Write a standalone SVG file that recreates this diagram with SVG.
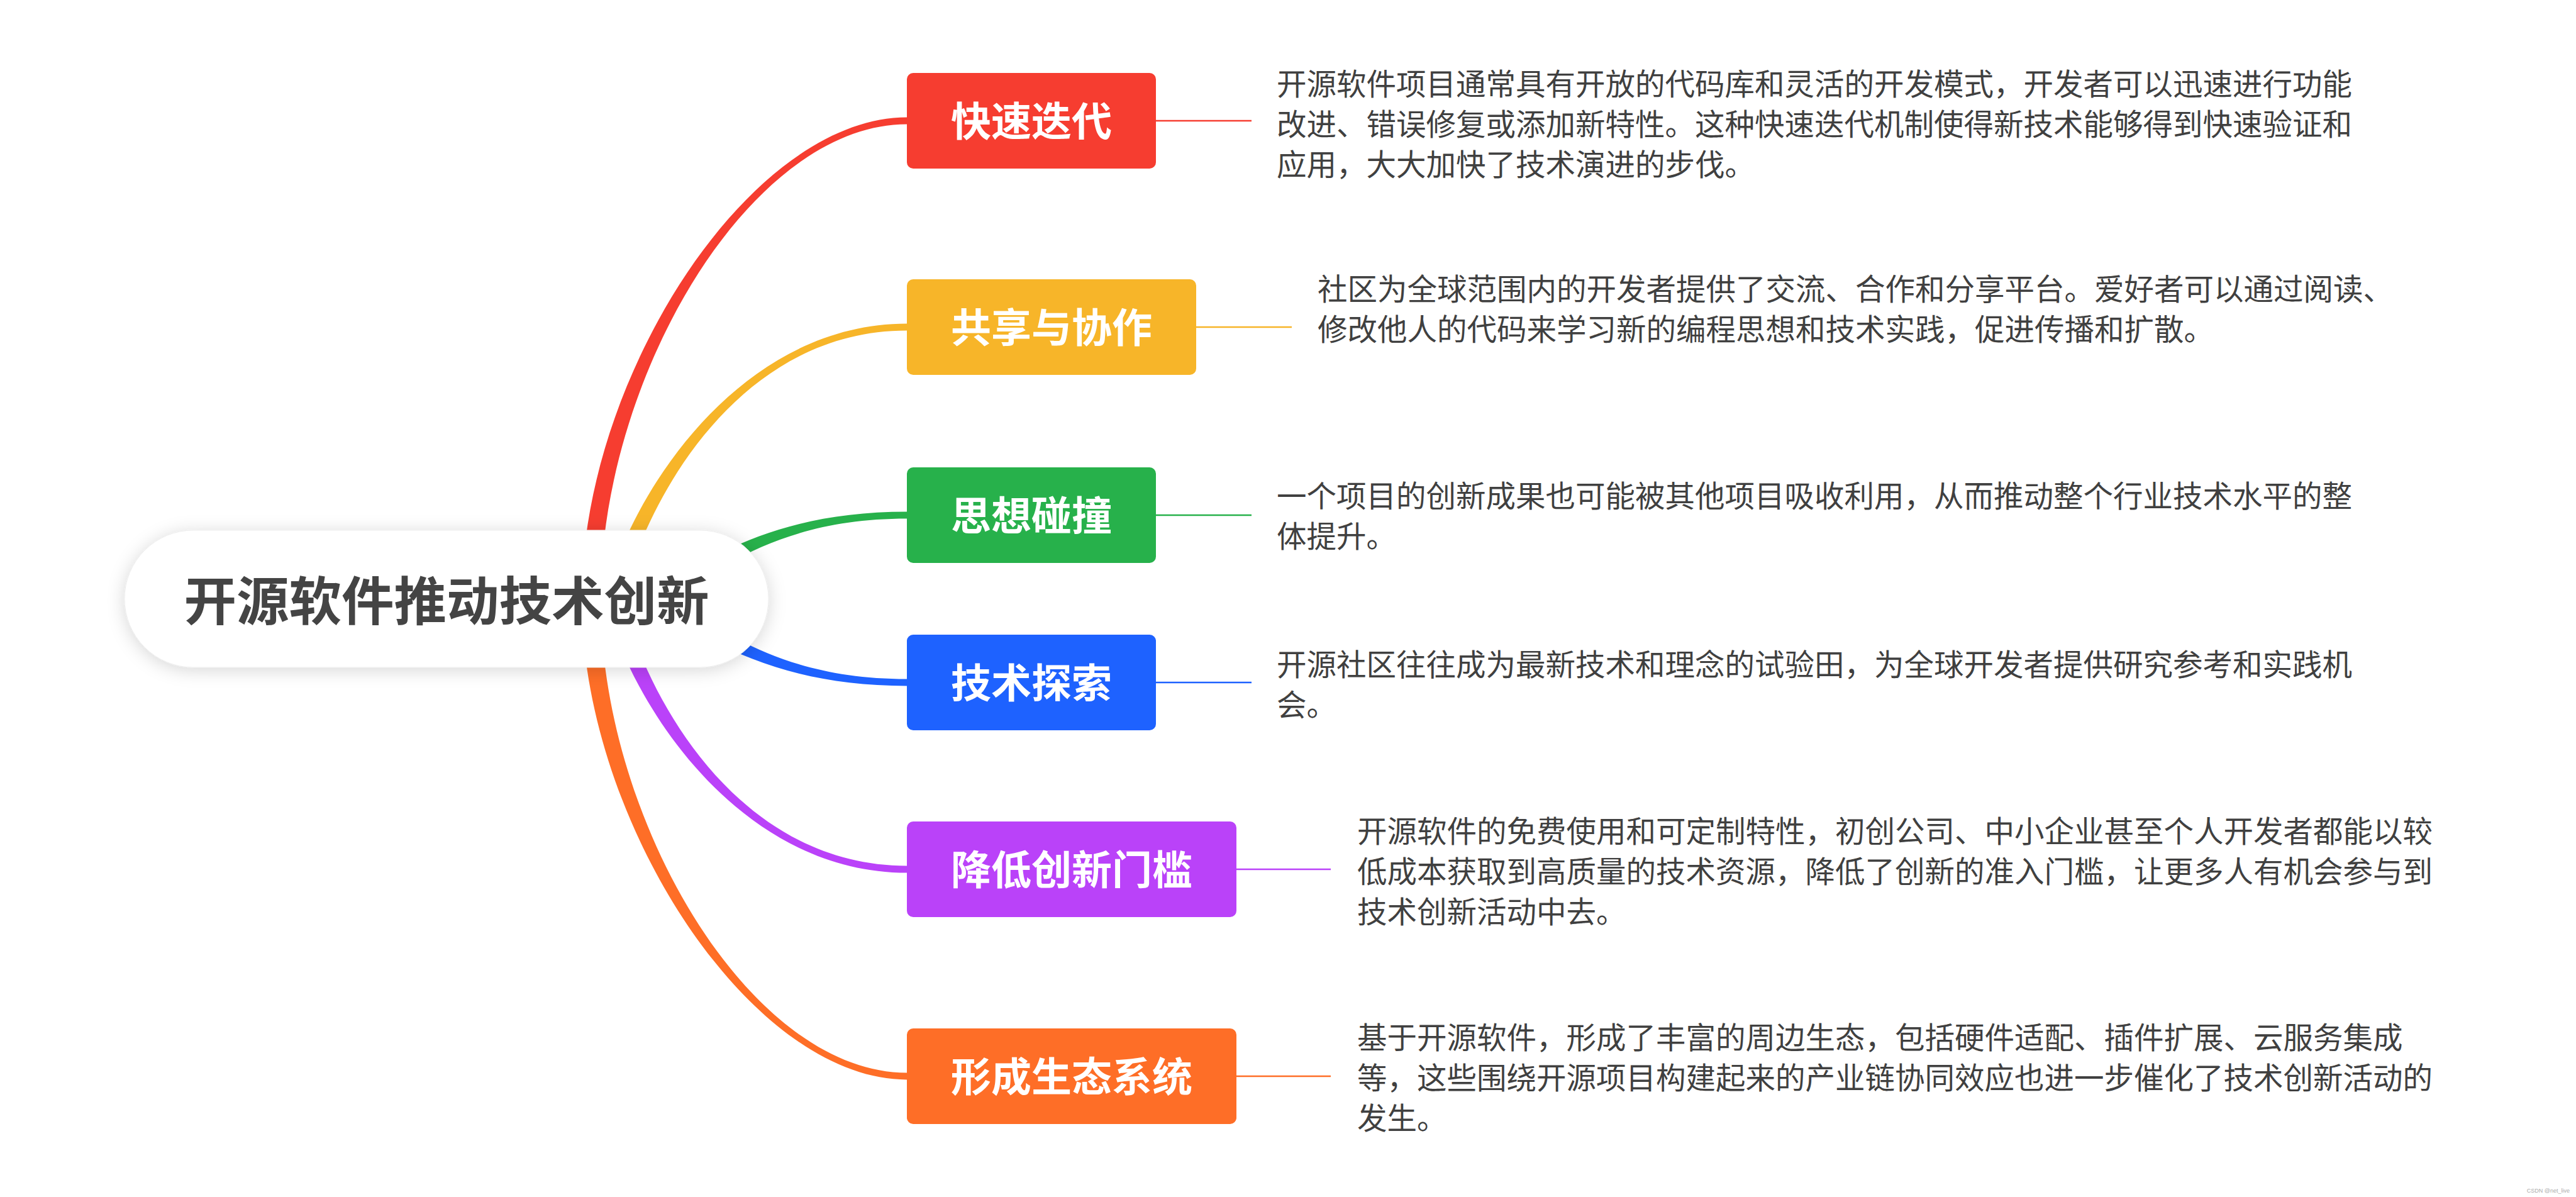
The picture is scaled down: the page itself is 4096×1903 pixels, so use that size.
<svg xmlns="http://www.w3.org/2000/svg" width="4096" height="1903" viewBox="0 0 4096 1903">
<defs>
<style>
.t{font-family:"Noto Sans CJK SC","Noto Sans",sans-serif;font-size:47.5px;fill:#404040;}
.lbl{font-family:"Noto Sans CJK SC","Noto Sans",sans-serif;font-size:64px;font-weight:bold;fill:#ffffff;text-anchor:middle;}
.title{font-family:"Noto Sans CJK SC","Noto Sans",sans-serif;font-size:83.5px;font-weight:bold;fill:#444444;text-anchor:middle;}
.wm{font-family:"Liberation Sans",Arial,sans-serif;font-size:9px;fill:#aaaaaa;text-anchor:end;}
.ln{stroke-width:2.5;fill:none;}
</style>
<filter id="sh" x="-20%" y="-40%" width="140%" height="180%">
<feDropShadow dx="0" dy="4" stdDeviation="14" flood-color="#000" flood-opacity="0.16"/>
</filter>
</defs>
<rect width="4096" height="1903" fill="#ffffff"/>
<g id="connectors">
<path fill="#F63D30" d="M925,952 C925,602 1192,186.5 1442,186.5 L1442,197.5 C1192,197.5 955,602 955,952 Z"/>
<path fill="#FE6E27" d="M925,952 C925,1302 1192,1716.5 1442,1716.5 L1442,1705.5 C1192,1705.5 955,1302 955,952 Z"/>
<path fill="#F7B529" d="M962,949 C1002,787 1175,514.5 1442,514.5 L1442,525.5 C1175,525.5 1028,793 988,955 Z"/>
<path fill="#BA42F9" d="M962,955 C1002,1117 1175,1387.5 1442,1387.5 L1442,1376.5 C1175,1376.5 1028,1111 988,949 Z"/>
<path fill="#27B14B" d="M1043,942 C1143,870 1260,813.5 1442,813.5 L1442,824.5 C1260,824.5 1157,890 1057,962 Z"/>
<path fill="#1E62FF" d="M1043,962 C1143,1034 1260,1090.5 1442,1090.5 L1442,1079.5 C1260,1079.5 1157,1014 1057,942 Z"/>
<line class="ln" stroke="#F63D30" x1="1838" y1="192" x2="1990" y2="192"/>
<line class="ln" stroke="#F7B529" x1="1902" y1="520" x2="2054" y2="520"/>
<line class="ln" stroke="#27B14B" x1="1838" y1="819" x2="1990" y2="819"/>
<line class="ln" stroke="#1E62FF" x1="1838" y1="1085" x2="1990" y2="1085"/>
<line class="ln" stroke="#BA42F9" x1="1966" y1="1382" x2="2116" y2="1382"/>
<line class="ln" stroke="#FE6E27" x1="1966" y1="1711" x2="2116" y2="1711"/>
</g>
<g id="root">
<rect x="198" y="843" width="1024" height="218" rx="109" ry="109" fill="#ffffff" stroke="#ececec" stroke-width="1" filter="url(#sh)"/>
<text class="title" x="710" y="986">开源软件推动技术创新</text>
</g>
<g id="n1">
<rect x="1442" y="116" width="396" height="152" rx="10" fill="#F63D30"/>
<text class="lbl" x="1640" y="216">快速迭代</text>
<text class="t" x="2030" y="151">开源软件项目通常具有开放的代码库和灵活的开发模式，开发者可以迅速进行功能</text>
<text class="t" x="2030" y="215">改进、错误修复或添加新特性。这种快速迭代机制使得新技术能够得到快速验证和</text>
<text class="t" x="2030" y="279">应用，大大加快了技术演进的步伐。</text>
</g>
<g id="n2">
<rect x="1442" y="444" width="460" height="152" rx="10" fill="#F7B529"/>
<text class="lbl" x="1672" y="544">共享与协作</text>
<text class="t" x="2095" y="477">社区为全球范围内的开发者提供了交流、合作和分享平台。爱好者可以通过阅读、</text>
<text class="t" x="2095" y="541">修改他人的代码来学习新的编程思想和技术实践，促进传播和扩散。</text>
</g>
<g id="n3">
<rect x="1442" y="743" width="396" height="152" rx="10" fill="#27B14B"/>
<text class="lbl" x="1640" y="843">思想碰撞</text>
<text class="t" x="2030" y="806">一个项目的创新成果也可能被其他项目吸收利用，从而推动整个行业技术水平的整</text>
<text class="t" x="2030" y="870">体提升。</text>
</g>
<g id="n4">
<rect x="1442" y="1009" width="396" height="152" rx="10" fill="#1E62FF"/>
<text class="lbl" x="1640" y="1109">技术探索</text>
<text class="t" x="2030" y="1074">开源社区往往成为最新技术和理念的试验田，为全球开发者提供研究参考和实践机</text>
<text class="t" x="2030" y="1138">会。</text>
</g>
<g id="n5">
<rect x="1442" y="1306" width="524" height="152" rx="10" fill="#BA42F9"/>
<text class="lbl" x="1704" y="1406">降低创新门槛</text>
<text class="t" x="2158" y="1339">开源软件的免费使用和可定制特性，初创公司、中小企业甚至个人开发者都能以较</text>
<text class="t" x="2158" y="1403">低成本获取到高质量的技术资源，降低了创新的准入门槛，让更多人有机会参与到</text>
<text class="t" x="2158" y="1467">技术创新活动中去。</text>
</g>
<g id="n6">
<rect x="1442" y="1635" width="524" height="152" rx="10" fill="#FE6E27"/>
<text class="lbl" x="1704" y="1735">形成生态系统</text>
<text class="t" x="2158" y="1667">基于开源软件，形成了丰富的周边生态，包括硬件适配、插件扩展、云服务集成</text>
<text class="t" x="2158" y="1731">等，这些围绕开源项目构建起来的产业链协同效应也进一步催化了技术创新活动的</text>
<text class="t" x="2158" y="1795">发生。</text>
</g>
<text class="wm" x="4086" y="1896">CSDN @net_live</text>
</svg>
